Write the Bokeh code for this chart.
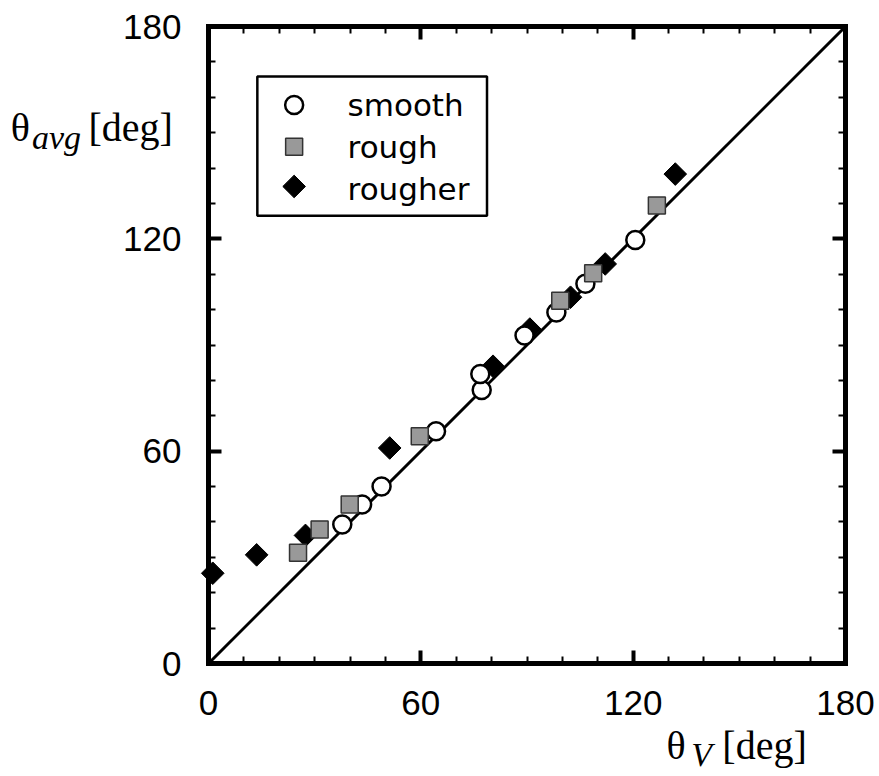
import math
from bokeh.plotting import figure
from bokeh.models import FixedTicker, LinearAxis, Label, Range1d
from bokeh.core.properties import value
from bokeh.embed import file_html
from bokeh.resources import INLINE

# ---- data ----
smooth_x = [37.8, 43.4, 48.9, 64.3, 77.2, 76.8, 89.3, 98.3, 106.5, 120.6]
smooth_y = [39.3, 44.9, 50.0, 65.6, 77.3, 81.8, 92.7, 99.2, 107.3, 119.7]

rough_x = [25.3, 31.4, 39.9, 59.7, 99.4, 108.7, 126.7]
rough_y = [31.3, 37.9, 44.9, 64.2, 102.5, 110.3, 129.4]

rougher_x = [1.2, 13.6, 27.4, 51.2, 80.4, 90.8, 102.3, 112.1, 131.9]
rougher_y = [25.5, 30.7, 36.2, 60.9, 84.0, 94.5, 103.5, 112.9, 138.3]

diag_x = [0, 180]
diag_y = [0, 180]

axis_min, axis_max = 0, 180
major_ticks = [0, 60, 120, 180]
minor_ticks = list(range(0, 181, 10))

legend_names = ["smooth", "rough", "rougher"]

# ---- layout constants (pixels) ----
W, H = 875, 772          # canvas == frame
AX_LEFT, AX_BOTTOM = 208, 663   # where value 0 sits on screen
PX = 637 / 180           # pixels per degree

p = figure(frame_width=W, frame_height=H,
           x_range=Range1d(-AX_LEFT / PX, (W - AX_LEFT) / PX),
           y_range=Range1d((AX_BOTTOM - H) / PX, AX_BOTTOM / PX),
           output_backend="svg", toolbar_location=None,
           min_border=0, min_border_left=0, min_border_right=0,
           min_border_top=0, min_border_bottom=0)
p.xgrid.visible = False
p.ygrid.visible = False
p.outline_line_color = None
p.background_fill_color = "white"
p.border_fill_color = "white"

ticker = FixedTicker(ticks=major_ticks, minor_ticks=minor_ticks)

def style_axis(ax, loc, labels=True):
    ax.fixed_location = loc
    ax.bounds = (axis_min, axis_max)
    ax.ticker = ticker
    ax.axis_line_width = 5
    ax.axis_line_color = "black"
    ax.axis_line_cap = "square"
    ax.major_tick_in = 13
    ax.major_tick_out = 0
    ax.minor_tick_in = 7
    ax.minor_tick_out = 0
    ax.major_tick_line_width = 4
    ax.minor_tick_line_width = 2
    ax.major_tick_line_color = "black"
    ax.minor_tick_line_color = "black"
    ax.major_label_text_font = "Liberation Sans"
    ax.major_label_text_font_size = "35px"
    ax.major_label_standoff = 27
    if labels:
        ax.major_label_text_color = "black"
    else:
        ax.major_label_text_color = None

style_axis(p.xaxis[0], axis_min)
style_axis(p.yaxis[0], axis_min)

top_ax = LinearAxis()
right_ax = LinearAxis()
style_axis(top_ax, axis_max, labels=False)
style_axis(right_ax, axis_max, labels=False)
p.add_layout(top_ax, "above")
p.add_layout(right_ax, "right")

# diagonal
p.line(diag_x, diag_y, line_color="black", line_width=3)

# data
p.scatter(rougher_x, rougher_y, marker="square", size=16, angle=math.pi / 4,
          fill_color="black", line_color="black", line_width=1)
p.scatter(smooth_x, smooth_y, marker="circle", size=18,
          fill_color="white", line_color="black", line_width=2.5)
p.scatter(rough_x, rough_y, marker="square", size=17,
          fill_color="#999999", line_color="#333333", line_width=1.5)

# legend (drawn manually)
p.quad(left=[13.8], right=[78.7], bottom=[126.5], top=[165.9],
       fill_color="white", line_color="black", line_width=2.5)
lx = 24.2
p.scatter([lx], [157.8], marker="circle", size=18, fill_color="white",
          line_color="black", line_width=2.5)
p.scatter([lx], [146.0], marker="square", size=17, fill_color="#999999",
          line_color="#333333", line_width=1.5)
p.scatter([lx], [134.8], marker="square", size=16, angle=math.pi / 4,
          fill_color="black", line_color="black", line_width=1)
p.text(x=[39.3, 39.3, 39.3], y=[157.9, 146.0, 134.2], text=legend_names,
       text_font=value("DejaVu Sans"), text_font_size="31px",
       text_baseline="alphabetic", text_align="left", text_color="black")

# axis titles
def lab(x, y, t, size, style="normal"):
    p.add_layout(Label(x=x, y=y, text=t, text_font="Liberation Serif",
                       text_font_size=size, text_font_style=style,
                       text_baseline="alphabetic", text_align="left",
                       text_color="black"))

lab(-55.9, 151.5, "θ", "40px")
lab(-49.9, 148.6, "avg", "34px", "italic")
lab(-33.9, 151.5, "[deg]", "40px")

lab(129.4, -23.2, "θ", "40px")
lab(136.4, -25.7, "V", "34px", "italic")
lab(145.2, -23.2, "[deg]", "40px")

open("out.html", "w").write(file_html(p, INLINE))
